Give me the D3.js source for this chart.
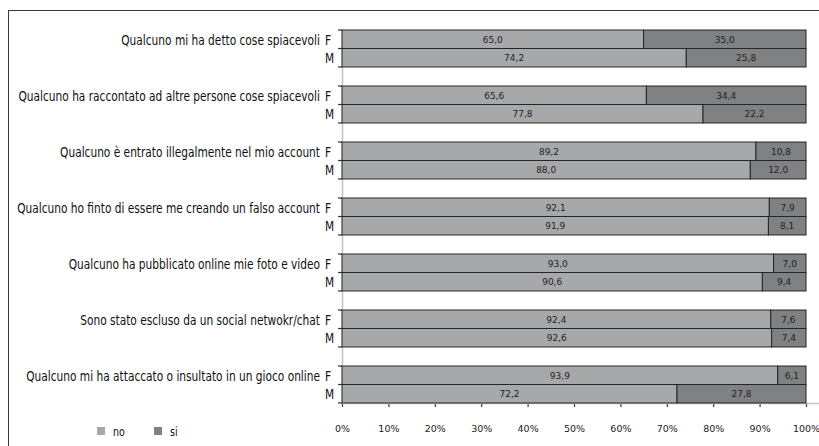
<!DOCTYPE html>
<html>
<head>
<meta charset="utf-8">
<script src="https://cdn.jsdelivr.net/npm/d3@7"></script>
<style>
  html, body { margin: 0; padding: 0; background: #ffffff; }
  svg { display: block; }
</style>
</head>
<body>
<svg id="chart" width="819" height="446"></svg>
<script>
// Survey items (one group of F/M bars per item)
const categories = [
  "Qualcuno mi ha detto cose spiacevoli",
  "Qualcuno ha raccontato ad altre persone cose spiacevoli",
  "Qualcuno è entrato illegalmente nel mio account",
  "Qualcuno ho finto di essere me creando un falso account",
  "Qualcuno ha pubblicato online mie foto e video",
  "Sono stato escluso da un social netwokr/chat",
  "Qualcuno mi ha attaccato o insultato in un gioco online"
];
const genders = ["F", "M"];
const seriesNames = ["no", "si"];

// Percentages per item, split by gender
const noF = [65.0, 65.6, 89.2, 92.1, 93.0, 92.4, 93.9];
const siF = [35.0, 34.4, 10.8, 7.9, 7.0, 7.6, 6.1];
const noM = [74.2, 77.8, 88.0, 91.9, 90.6, 92.6, 72.2];
const siM = [25.8, 22.2, 12.0, 8.1, 9.4, 7.4, 27.8];

const xTickValues = [0, 10, 20, 30, 40, 50, 60, 70, 80, 90, 100];

const colors = { no: "#a7a8aa", si: "#808183" };
const condensed = "'Liberation Sans Narrow', 'Arial Narrow', 'DejaVu Sans Condensed', sans-serif";
const plain = "'DejaVu Sans', Verdana, sans-serif";

const svg = d3.select("#chart");

// Outer frame (continues past the right and bottom edges)
svg.append("rect")
  .attr("x", 8.5).attr("y", 10.5)
  .attr("width", 900).attr("height", 500)
  .attr("fill", "#ffffff")
  .attr("stroke", "#3a3a3a").attr("stroke-width", 1);

const x = d3.scaleLinear().domain([0, 100]).range([342, 806]);
const y = d3.scaleBand().domain(categories).range([20.5, 412.5])
  .paddingInner(0.34).paddingOuter(0.17);
const yG = d3.scaleBand().domain(genders).range([0, y.bandwidth()]);

const axisY = y(categories[categories.length - 1]) + y.bandwidth();

// Rows: one per item and gender
const rows = [];
categories.forEach((c, i) => {
  rows.push({ cat: c, g: "F", no: noF[i], si: siF[i] });
  rows.push({ cat: c, g: "M", no: noM[i], si: siM[i] });
});

const fmt = d3.formatLocale({ decimal: ",", thousands: ".", grouping: [3], currency: ["", "€"] }).format(".1f");

// Gray vertical axis line
svg.append("line")
  .attr("x1", x(0) + 0.5).attr("x2", x(0) + 0.5)
  .attr("y1", y(categories[0])).attr("y2", axisY)
  .attr("stroke", "#c4c4c4").attr("stroke-width", 1.5);

// Bottom axis
const xAxis = d3.axisBottom(x)
  .tickValues(xTickValues)
  .tickSize(4)
  .tickPadding(18)
  .tickFormat(d => d + "%");
const gx = svg.append("g")
  .attr("transform", `translate(0,${axisY})`)
  .call(xAxis);
gx.select(".domain").remove();
gx.append("line")
  .attr("x1", x(0)).attr("x2", 819)
  .attr("y1", 0.5).attr("y2", 0.5)
  .attr("stroke", "#c4c4c4").attr("stroke-width", 1.5);
gx.selectAll(".tick line").attr("stroke", "#333").attr("stroke-width", 1.2);
gx.selectAll(".tick text")
  .attr("font-family", plain).attr("font-size", 9.5)
  .attr("fill", "#222");

// Left category ticks at each bar edge
const tickYs = [];
categories.forEach(c => {
  tickYs.push(y(c), y(c) + yG("M"), y(c) + y.bandwidth());
});
svg.append("g").selectAll("line").data(tickYs).join("line")
  .attr("x1", x(0) - 4).attr("x2", x(0))
  .attr("y1", d => d).attr("y2", d => d)
  .attr("stroke", "#333").attr("stroke-width", 1.2);

// Stacked bars
const barG = svg.append("g");
rows.forEach(r => {
  const y0 = y(r.cat) + yG(r.g);
  const h = yG.bandwidth();
  let start = 0;
  seriesNames.forEach(s => {
    const v = r[s];
    barG.append("rect")
      .attr("x", x(start)).attr("y", y0)
      .attr("width", x(start + v) - x(start)).attr("height", h)
      .attr("fill", colors[s])
      .attr("stroke", "#262626").attr("stroke-width", 1);
    barG.append("text")
      .attr("x", (x(start) + x(start + v)) / 2)
      .attr("y", y0 + h / 2)
      .attr("dy", "0.36em")
      .attr("text-anchor", "middle")
      .attr("font-family", plain).attr("font-size", 9)
      .attr("fill", "#222")
      .text(fmt(v));
    start += v;
  });
});

// Category labels, fitted to the space left of the F/M markers
const labelRight = 320;
const labelMaxWidth = 303;
const labelG = svg.append("g");
const labels = labelG.selectAll("text").data(categories).join("text")
  .attr("text-anchor", "end")
  .attr("font-family", condensed).attr("font-size", 14)
  .attr("fill", "#111")
  .text(d => d);
let widest = 0;
labels.each(function () { widest = Math.max(widest, this.getComputedTextLength()); });
const k = Math.min(1, labelMaxWidth / widest);
labels.attr("transform", d =>
  `translate(${labelRight},${y(d) + yG.bandwidth() / 2 + 5.5}) scale(${k},1)`);

// F / M markers
categories.forEach(c => {
  genders.forEach(g => {
    svg.append("text")
      .attr("transform", `translate(325,${y(c) + yG(g) + yG.bandwidth() / 2 + 5.5}) scale(${k},1)`)
      .attr("font-family", condensed).attr("font-size", 14)
      .attr("fill", "#111")
      .text(g);
  });
});

// Legend
const legend = svg.append("g").attr("transform", "translate(97,427)");
seriesNames.forEach((s, i) => {
  const lg = legend.append("g").attr("transform", `translate(${i * 57},0)`);
  lg.append("rect").attr("width", 8).attr("height", 8).attr("fill", colors[s]);
  lg.append("text")
    .attr("transform", `translate(16,8.5) scale(${k},1)`)
    .attr("font-family", condensed).attr("font-size", 12.5)
    .attr("fill", "#111")
    .text(s);
});
</script>
</body>
</html>
